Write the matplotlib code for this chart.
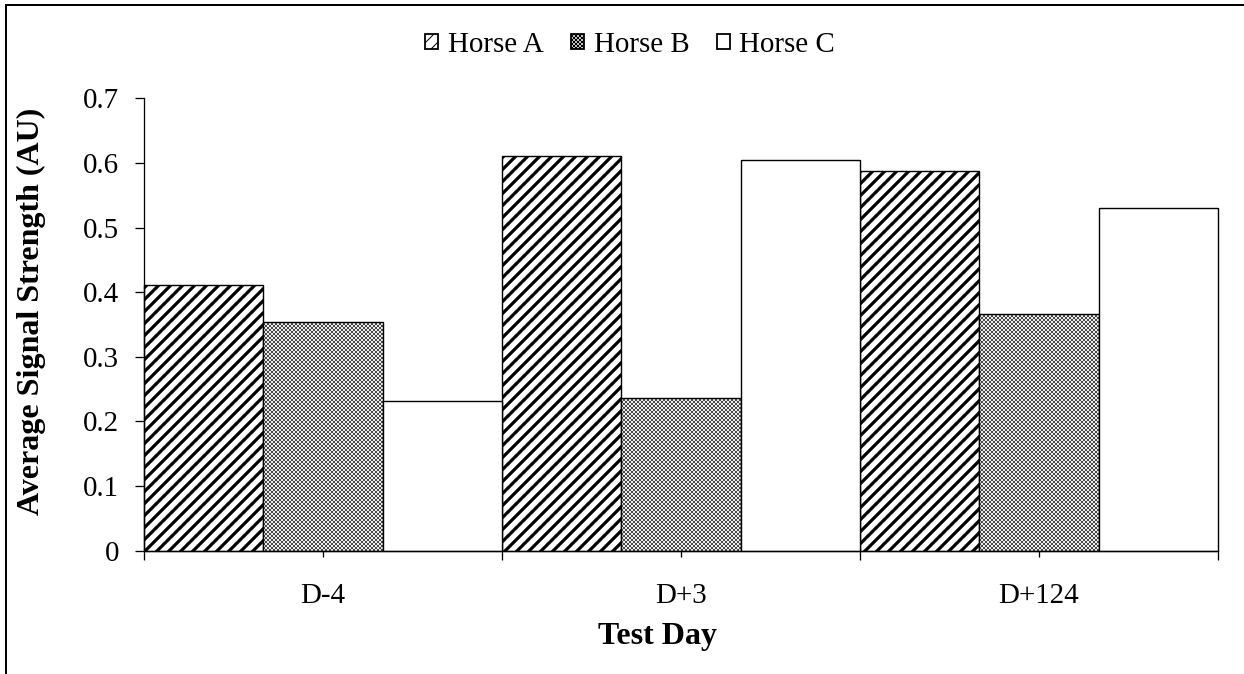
import matplotlib
matplotlib.use('Agg')
import matplotlib.pyplot as plt
import numpy as np
from matplotlib.lines import Line2D

# ---- data ----
categories = ['D-4', 'D+3', 'D+124']
series_names = ['Horse A', 'Horse B', 'Horse C']
horse_a = [0.411, 0.610, 0.587]
horse_b = [0.354, 0.236, 0.367]
horse_c = [0.231, 0.604, 0.531]
y_ticks = [0, 0.1, 0.2, 0.3, 0.4, 0.5, 0.6, 0.7]
y_tick_labels = ['0', '0.1', '0.2', '0.3', '0.4', '0.5', '0.6', '0.7']

series_values = [horse_a, horse_b, horse_c]
hatches = ['//', 'xxxxxx', None]
hatch_lws = [3.2, 0.55, 1.0]

plt.rcParams['font.family'] = ['Liberation Serif', 'DejaVu Serif']

W, H = 1244, 674
DPI = 72
fig = plt.figure(figsize=(W / DPI, H / DPI), dpi=DPI)
fig.patch.set_facecolor('white')

left, right = 144 / W, 1218 / W
bottom, top = 1 - 550.7 / H, 1 - 98.3 / H
ax = fig.add_axes([left, bottom, right - left, top - bottom])

x = np.arange(len(categories))
width = 1 / 3
bars = []
for j, (vals, name) in enumerate(zip(series_values, series_names)):
    plt.rcParams['hatch.linewidth'] = hatch_lws[j]
    b = ax.bar(x + (j - 1) * width, vals, width=width, color='white',
               edgecolor='black', linewidth=1.4, hatch=hatches[j],
               label=name, zorder=2)
    for p in b.patches:
        p.set_clip_on(False)
        if hasattr(p, 'set_hatch_linewidth'):
            p.set_hatch_linewidth(hatch_lws[j])
    bars.append(b)

ax.set_xlim(-0.5, len(categories) - 0.5)
ax.set_ylim(0, 0.7)
ax.set_yticks(y_ticks)
ax.set_yticklabels(y_tick_labels)

ax.set_xticks(np.arange(len(categories) + 1) - 0.5)
ax.set_xticklabels([''] * (len(categories) + 1))
ax.set_xticks(x, minor=True)
ax.set_xticklabels(categories, minor=True)

for s in ['top', 'right']:
    ax.spines[s].set_visible(False)
for s in ['left', 'bottom']:
    ax.spines[s].set_linewidth(1.3)

ax.tick_params(axis='y', which='major', direction='out', length=9, width=1.3,
               labelsize=29, pad=16)
ax.tick_params(axis='x', which='major', direction='out', length=9, width=1.3)
ax.tick_params(axis='x', which='minor', direction='out', length=6, width=1.3,
               labelsize=29, pad=26)

ax.set_ylabel('Average Signal Strength (AU)', fontsize=32, fontweight='bold')
ax.yaxis.set_label_coords(-0.091, 0.529)
ax.set_xlabel('Test Day', fontsize=32, fontweight='bold')
ax.xaxis.set_label_coords(0.4777, -0.158)

handles = [b.patches[0] for b in bars]
leg = fig.legend(handles, series_names, loc='center',
                 bbox_to_anchor=(0.5065, 1 - 45 / H), ncol=3, frameon=False,
                 fontsize=29, handlelength=0.45, handleheight=0.45,
                 handletextpad=0.33, columnspacing=0.95, borderaxespad=0)
for h in leg.legend_handles:
    h.set_linewidth(1.8)

# outer frame
fig.add_artist(Line2D([6 / W, 6 / W], [0, 1 - 5 / H], transform=fig.transFigure,
                      color='black', lw=2))
fig.add_artist(Line2D([6 / W, 1], [1 - 5 / H, 1 - 5 / H],
                      transform=fig.transFigure, color='black', lw=2))

fig.savefig('out.png', dpi=DPI)
